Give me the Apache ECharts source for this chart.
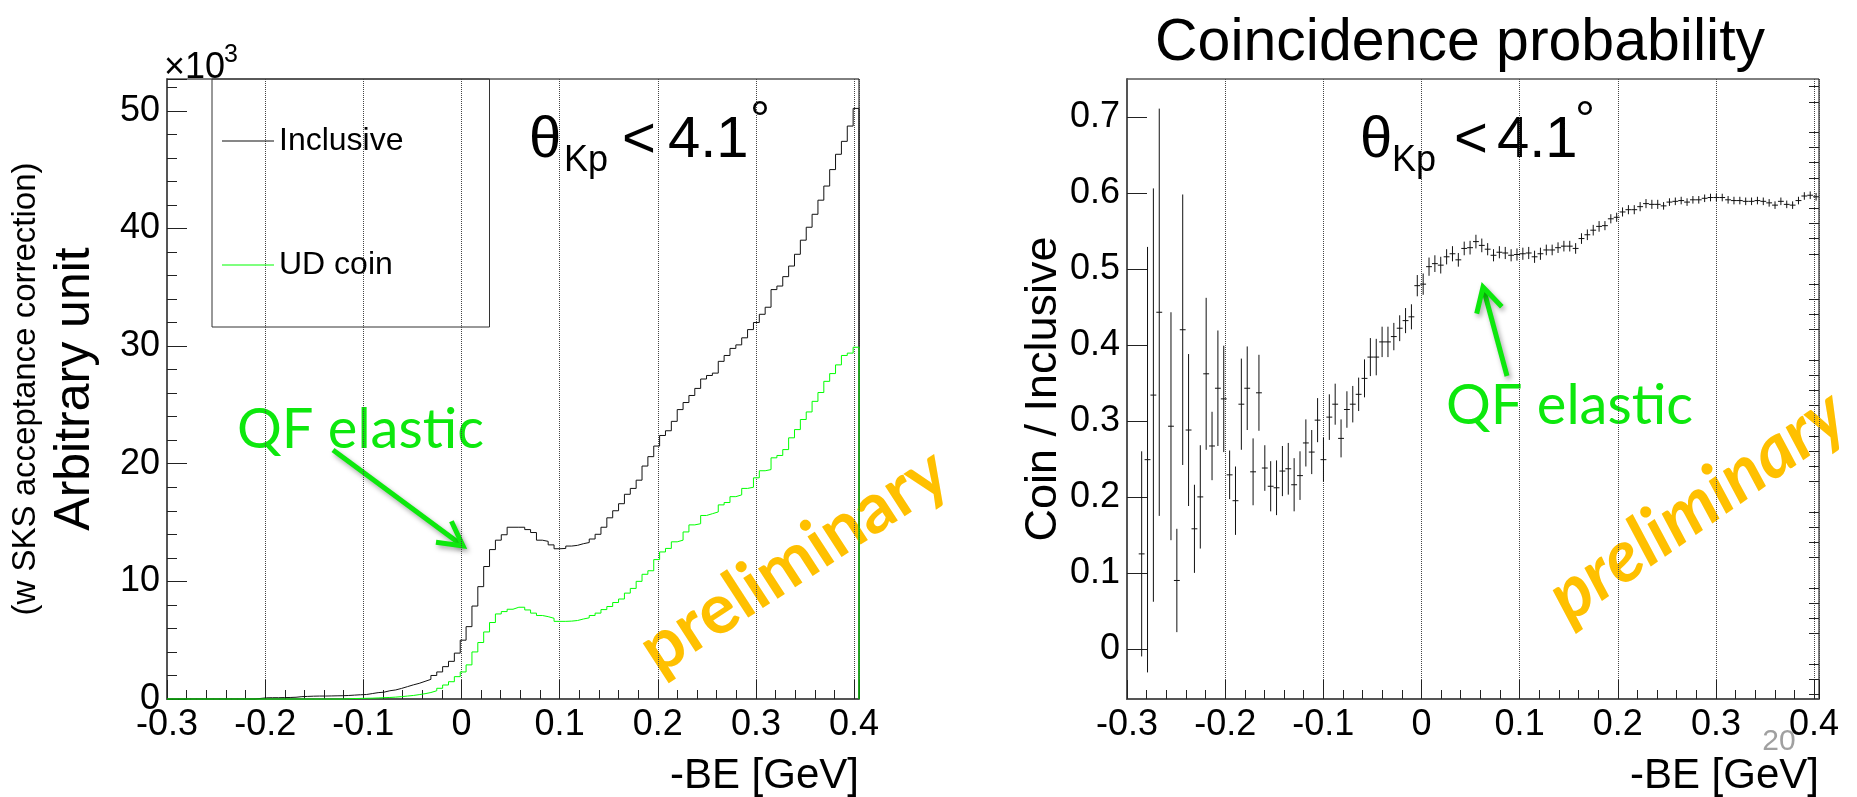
<!DOCTYPE html>
<html><head><meta charset="utf-8">
<script src="https://cdn.jsdelivr.net/npm/echarts@6/dist/echarts.min.js"></script>
<style>html,body{margin:0;padding:0;background:#fff;}#c{width:1857px;height:797px;}</style>
</head><body><div id="c"></div>
<script>
// ---- binning (both panels share the same -BE binning) ----
const binLow = -0.3;
const binHigh = 0.405;
const nBins = 118;

// ---- left panel: counts (x10^3) per bin ----
const inclusive = [
0,0,0,0,0,0,0,0,0,0,0,0,0,0,0,
0.05,0.1,0.11,0.11,0.12,0.13,0.15,0.2,0.22,0.24,
0.25,0.25,0.26,0.27,0.28,0.3,0.33,0.36,0.38,0.46,
0.54,0.58,0.7,0.77,0.9,1.05,1.2,1.33,1.5,1.67,
2.0,2.3,2.75,3.2,3.9,5.0,6.15,7.9,9.55,11.26,
12.7,13.5,13.96,14.6,14.6,14.6,14.4,14.15,13.5,13.4,
13.1,12.77,12.8,13.0,13.06,13.2,13.3,13.6,14.0,14.6,
15.4,16.0,16.6,17.4,17.9,18.6,19.8,20.6,21.5,22.4,
22.8,23.6,24.6,25.2,25.8,26.4,27.2,27.5,27.7,28.7,
29.2,29.8,30.1,30.7,31.4,32.0,32.7,33.3,34.8,35.1,
35.9,36.8,37.8,39.0,40.1,41.2,42.4,43.6,45.0,46.3,
47.4,48.7,50.2
];
const udCoin = [
0,0,0,0,0,0,0,0,0,0,0,0,0,0,0,
0,0,0,0,0,0,0,0,0,0,0,0,0,0,0,
0.02,0.04,0.05,0.06,0.07,0.09,0.11,0.13,0.16,0.2,
0.25,0.3,0.37,0.45,0.55,0.7,0.91,1.19,1.47,1.9,
2.3,2.9,4.0,4.8,5.7,6.5,7.23,7.43,7.63,7.8,
7.8,7.57,7.3,7.1,7.0,6.86,6.6,6.6,6.62,6.67,
6.8,6.9,7.1,7.3,7.6,7.86,8.2,8.5,9.0,9.4,
10.0,10.6,10.9,11.85,12.5,12.8,13.36,13.5,14.2,14.8,
14.9,15.6,15.75,15.9,16.5,16.7,17.2,17.35,17.9,18.0,
18.8,19.4,19.5,20.5,20.7,21.2,22.2,22.9,23.76,24.4,
25.3,26.05,27.0,27.66,28.4,29.2,29.4,29.9
];

// ---- right panel: Coin / Inclusive per bin and its error ----
const ratio = [
null,null,0.125,0.249,0.334,0.443,null,0.293,0.09,0.42,
0.288,0.158,0.2,0.362,0.267,0.343,0.329,0.229,0.195,0.322,
0.343,0.233,0.337,0.238,0.214,0.212,0.234,0.237,0.216,0.228,
0.271,0.259,0.301,0.249,0.305,0.322,0.277,0.315,0.322,0.335,
0.356,0.384,0.384,0.404,0.404,0.411,0.422,0.432,0.437,0.478,
0.48,0.503,0.507,0.505,0.516,0.52,0.512,0.527,0.528,0.536,
0.531,0.526,0.518,0.522,0.521,0.518,0.519,0.52,0.521,0.516,
0.52,0.525,0.525,0.528,0.53,0.53,0.527,0.54,0.545,0.551,
0.556,0.557,0.566,0.568,0.575,0.578,0.578,0.582,0.586,0.585,
0.585,0.583,0.588,0.589,0.59,0.588,0.591,0.591,0.593,0.594,
0.594,0.594,0.591,0.59,0.59,0.589,0.589,0.59,0.589,0.587,
0.584,0.589,0.585,0.584,0.59,0.596,0.597,0.595
];
const ratioErr = [
null,null,0.135,0.28,0.272,0.268,null,0.15,0.068,0.178,
0.1,0.058,0.068,0.1,0.045,0.076,0.07,0.032,0.045,0.06,
0.055,0.044,0.05,0.03,0.033,0.036,0.033,0.034,0.035,0.032,
0.031,0.029,0.029,0.029,0.03,0.027,0.025,0.024,0.024,0.022,
0.025,0.025,0.024,0.02,0.02,0.018,0.017,0.0165,0.0165,0.014,
0.014,0.012,0.011,0.011,0.01,0.01,0.009,0.009,0.009,0.009,
0.009,0.008,0.008,0.008,0.008,0.008,0.008,0.008,0.008,0.008,
0.008,0.007,0.007,0.007,0.007,0.007,0.007,0.007,0.007,0.007,
0.007,0.006,0.006,0.006,0.006,0.006,0.006,0.006,0.006,0.006,
0.006,0.005,0.005,0.005,0.005,0.005,0.005,0.005,0.005,0.005,
0.005,0.005,0.005,0.005,0.005,0.005,0.005,0.005,0.005,0.005,
0.005,0.005,0.005,0.005,0.005,0.005,0.005,0.005
];

// ---- tick labels ----
const xTicks = [-0.3,-0.2,-0.1,0,0.1,0.2,0.3,0.4];
const yTicksLeft = [0,10,20,30,40,50];
const yTicksRight = [0,0.1,0.2,0.3,0.4,0.5,0.6,0.7];
const yMinorRight = [-0.06,-0.04,-0.02,0.02,0.04,0.06,0.08,0.12,0.14,0.16,0.18,0.22,0.24,0.26,0.28,0.32,0.34,0.36,0.38,0.42,0.44,0.46,0.48,0.52,0.54,0.56,0.58,0.62,0.64,0.66,0.68,0.72,0.74];

const binW = (binHigh - binLow) / nBins;
function histData(vals) {
  const pts = [];
  for (let i = 0; i < vals.length; i++) pts.push([binLow + i * binW, vals[i]]);
  pts.push([binHigh, vals[vals.length - 1]]);
  pts.push([binHigh, 0]);
  return pts;
}
const ratioData = [];
ratio.forEach((v, i) => { if (v != null) ratioData.push([binLow + (i + 0.5) * binW, v, ratioErr[i]]); });

const FONT = "'Liberation Sans', Arial, Helvetica, sans-serif";
const GREEN = '#00ff00';
const ANNOT_GREEN = '#0de80d';
const GOLD = '#ffc000';
const fmtX = v => Math.abs(v) < 1e-9 ? '0' : v.toFixed(1);

function xAxisCfg(gi) {
  return {
    type: 'value', gridIndex: gi, min: binLow, max: binHigh, interval: 0.1,
    axisLine: { show: true, onZero: false, lineStyle: { color: '#555', width: 2 } },
    axisTick: { show: true, inside: true, length: 19, lineStyle: { color: '#222', width: 1 } },
    minorTick: { show: true, splitNumber: 5, length: 9, lineStyle: { color: '#222', width: 1 } },
    axisLabel: { fontSize: 36, color: '#000', fontFamily: FONT, margin: 8, formatter: fmtX, showMaxLabel: false, showMinLabel: true },
    splitLine: { show: true, lineStyle: { type: 'dotted', color: '#444', width: 1 } },
    name: '-BE [GeV]', nameLocation: 'end', nameGap: 0,
    nameTextStyle: { fontSize: 42, color: '#000', fontFamily: FONT, align: 'right', verticalAlign: 'top', padding: [56, 0, 0, 0] }
  };
}

const chart = echarts.init(document.getElementById('c'), null, { renderer: 'canvas' });

function crossItem(params, api) {
  const x = api.value(0), y = api.value(1), e = api.value(2);
  const l = api.coord([x - binW / 2, y]), r = api.coord([x + binW / 2, y]);
  const t = api.coord([x, y + e]), b = api.coord([x, y - e]);
  const st = { stroke: '#111', lineWidth: 1 };
  return { type: 'group', children: [
    { type: 'line', shape: { x1: l[0], y1: l[1], x2: r[0], y2: r[1] }, style: st },
    { type: 'line', shape: { x1: t[0], y1: t[1], x2: b[0], y2: b[1] }, style: st }
  ]};
}

function arrow(tail, tip) {
  const dx = tip[0] - tail[0], dy = tip[1] - tail[1];
  const len = Math.hypot(dx, dy), ux = dx / len, uy = dy / len, nx = -uy, ny = ux;
  const hl = 24, hw = 13;
  const bx = tip[0] - ux * hl, by = tip[1] - uy * hl;
  const style = { stroke: ANNOT_GREEN, lineWidth: 5, fill: null, lineJoin: 'miter', lineCap: 'butt',
    shadowBlur: 5, shadowColor: 'rgba(0,0,0,0.35)', shadowOffsetX: 2, shadowOffsetY: 3 };
  return [
    { type: 'polyline', shape: { points: [tail, [tip[0] - ux * 3, tip[1] - uy * 3]] }, style },
    { type: 'polyline', shape: { points: [[bx + nx * hw, by + ny * hw], tip, [bx - nx * hw, by - ny * hw]] }, style }
  ];
}

function thetaLabel(xs) {
  // xs: [theta, Kp, <, 4.1, deg]
  return [
    { type: 'text', x: xs[0], y: 141, style: { text: 'θ', font: "58px " + FONT, fill: '#000', verticalAlign: 'middle' } },
    { type: 'text', x: xs[1], y: 161, style: { text: 'Kp', font: "36px " + FONT, fill: '#000', verticalAlign: 'middle' } },
    { type: 'text', x: xs[2], y: 141, style: { text: '<', font: "58px " + FONT, fill: '#000', verticalAlign: 'middle' } },
    { type: 'text', x: xs[3], y: 141, style: { text: '4.1', font: "58px " + FONT, fill: '#000', verticalAlign: 'middle' } },
    { type: 'text', x: xs[4], y: 122, style: { text: '°', font: "50px " + FONT, fill: '#000', verticalAlign: 'middle' } }
  ];
}

const option = {
  animation: false,
  backgroundColor: '#fff',
  title: { text: 'Coincidence probability', left: 1155, top: 14, padding: 0,
    textStyle: { fontSize: 59, fontWeight: 'normal', color: '#000', fontFamily: FONT } },
  legend: {
    orient: 'vertical', left: 212, top: 79, selectedMode: false,
    padding: [44, 86, 44, 10], itemGap: 88, itemWidth: 52, itemHeight: 1, icon: 'rect',
    borderColor: '#333', borderWidth: 1,
    textStyle: { fontSize: 32, color: '#000', fontFamily: FONT, lineHeight: 36 },
    data: ['Inclusive', 'UD coin']
  },
  grid: [
    { left: 167, top: 79, width: 692, height: 620, show: true, borderColor: '#000', borderWidth: 1, backgroundColor: 'transparent' },
    { left: 1127, top: 79, width: 692, height: 620, show: true, borderColor: '#000', borderWidth: 1, backgroundColor: 'transparent' }
  ],
  xAxis: [xAxisCfg(0), xAxisCfg(1)],
  yAxis: [
    { type: 'value', gridIndex: 0, min: 0, max: 52.7, interval: 10,
      axisLine: { show: true, onZero: false, lineStyle: { color: '#555', width: 2 } },
      axisTick: { show: true, inside: true, length: 20, lineStyle: { color: '#222' } },
      minorTick: { show: true, splitNumber: 5, length: 10, lineStyle: { color: '#222' } },
      axisLabel: { fontSize: 36, color: '#000', fontFamily: FONT, margin: 7, showMaxLabel: false },
      splitLine: { show: false },
      name: '{a|(w SKS acceptance correction)}\n{b|Arbitrary unit}',
      nameLocation: 'middle', nameRotate: 90, nameGap: 65,
      nameTextStyle: { rich: {
        a: { fontSize: 33, lineHeight: 44, color: '#000', fontFamily: FONT },
        b: { fontSize: 50, lineHeight: 54, color: '#000', fontFamily: FONT } } }
    },
    { type: 'value', gridIndex: 1, min: -0.066, max: 0.75,
      axisLine: { show: true, onZero: false, lineStyle: { color: '#555', width: 2 } },
      axisTick: { show: true, inside: true, length: 20, customValues: yTicksRight, lineStyle: { color: '#222' } },
      axisLabel: { fontSize: 36, color: '#000', fontFamily: FONT, margin: 7, customValues: yTicksRight,
        formatter: v => Math.abs(v) < 1e-9 ? '0' : v.toFixed(1) },
      splitLine: { show: false },
      name: 'Coin / Inclusive', nameLocation: 'middle', nameRotate: 90, nameGap: 60,
      nameTextStyle: { fontSize: 45, color: '#000', fontFamily: FONT }
    },
    { type: 'value', gridIndex: 1, min: -0.066, max: 0.75,
      axisLine: { show: false, onZero: false },
      axisTick: { show: true, inside: true, length: 10, customValues: yMinorRight, lineStyle: { color: '#222' } },
      axisLabel: { show: false }, splitLine: { show: false }
    }
  ],
  series: [
    { name: 'Inclusive', type: 'line', xAxisIndex: 0, yAxisIndex: 0, step: 'end', data: histData(inclusive),
      symbol: 'none', showSymbol: false, clip: false, silent: true,
      lineStyle: { color: '#111', width: 1 }, itemStyle: { color: '#111' } },
    { name: 'UD coin', type: 'line', xAxisIndex: 0, yAxisIndex: 0, step: 'end', data: histData(udCoin),
      symbol: 'none', showSymbol: false, clip: false, silent: true,
      lineStyle: { color: GREEN, width: 1 }, itemStyle: { color: GREEN } },
    { name: 'ratio', type: 'custom', xAxisIndex: 1, yAxisIndex: 1, data: ratioData,
      renderItem: crossItem, silent: true, encode: { x: 0, y: 1 } }
  ],
  graphic: [
    { type: 'text', x: 164, y: 50, style: { text: '×10', font: "36px " + FONT, fill: '#000' } },
    { type: 'text', x: 224, y: 43, style: { text: '3', font: "25px " + FONT, fill: '#000' } },
    ...thetaLabel([529, 564, 622, 668, 750]),
    ...thetaLabel([1360, 1392, 1454, 1497, 1575]),
    { type: 'text', x: 237, y: 430, style: { text: 'QF elastic', font: "56px Lato, 'Open Sans', sans-serif", fill: ANNOT_GREEN, verticalAlign: 'middle' } },
    { type: 'text', x: 1446, y: 406, style: { text: 'QF elastic', font: "56px Lato, 'Open Sans', sans-serif", fill: ANNOT_GREEN, verticalAlign: 'middle' } },
    ...arrow([333, 450], [463, 546]),
    ...arrow([1507, 376], [1483, 287]),
    { type: 'text', x: 794, y: 561, rotation: 33 * Math.PI / 180,
      style: { text: 'preliminary', font: "bold 70px Lato, 'Open Sans', sans-serif", fill: GOLD, align: 'center', verticalAlign: 'middle' } },
    { type: 'text', x: 1697, y: 506, rotation: 35 * Math.PI / 180,
      style: { text: 'preliminary', font: "italic bold 72px Lato, 'Open Sans', sans-serif", fill: GOLD, align: 'center', verticalAlign: 'middle' } },
    { type: 'text', x: 1779, y: 742, style: { text: '20', font: "30px 'Liberation Sans Narrow', " + FONT, fill: '#a0a0a0', align: 'center', verticalAlign: 'middle' } }
  ]
};
chart.setOption(option);
</script>
</body></html>
